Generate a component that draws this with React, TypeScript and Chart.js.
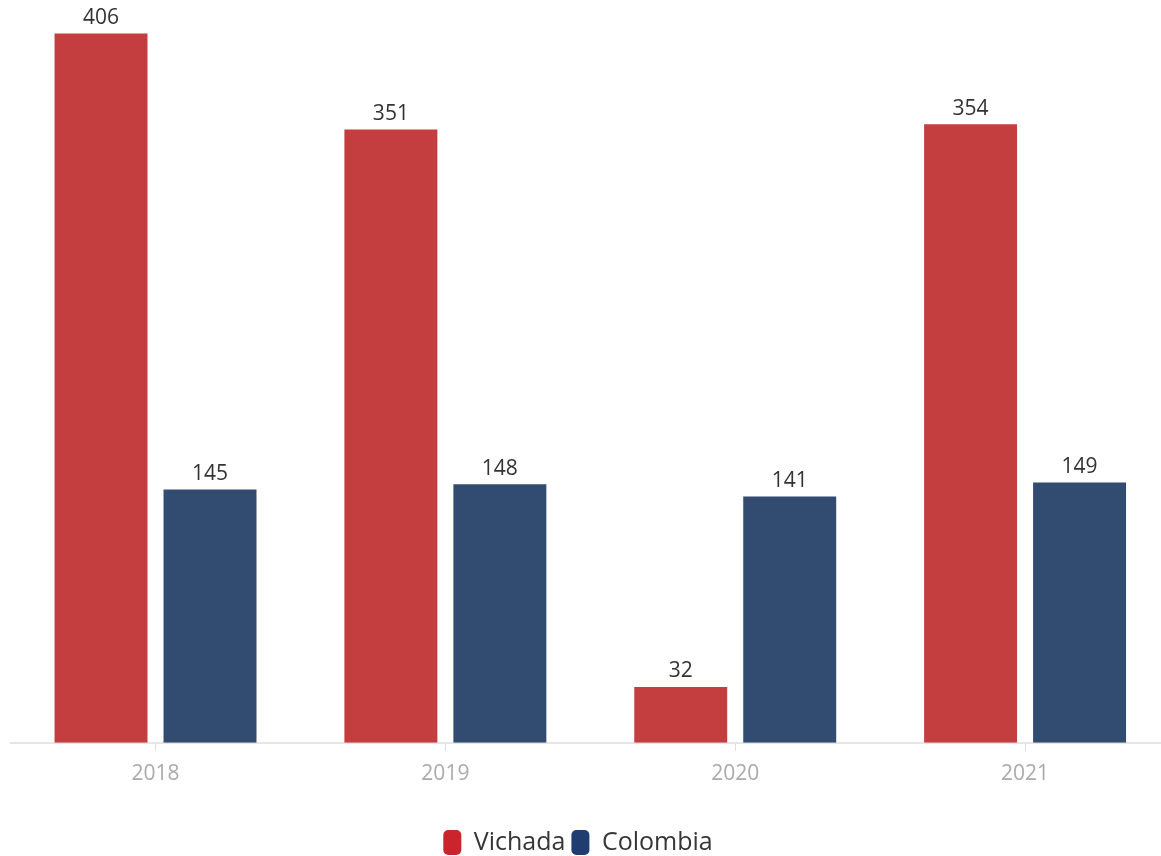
import React, { useEffect, useRef } from "react";
import { Chart, registerables } from "chart.js";

Chart.register(...registerables);

const years = ["2018", "2019", "2020", "2021"];
const vichada = [406, 351, 32, 354];
const colombia = [145, 148, 141, 149];
const seriesNames = ["Vichada", "Colombia"];
const barColors = ["#c43d3f", "#324b70"];
const legendColors = ["#c8252c", "#1f3d70"];

const FONT = "'Open Sans', 'Noto Sans', sans-serif";

const valueLabels = {
  id: "valueLabels",
  afterDatasetsDraw(chart: any) {
    const ctx = chart.ctx;
    ctx.save();
    ctx.font = `21px ${FONT}`;
    ctx.fillStyle = "#333333";
    ctx.textAlign = "center";
    ctx.textBaseline = "bottom";
    chart.data.datasets.forEach((ds: any, i: number) => {
      const meta = chart.getDatasetMeta(i);
      meta.data.forEach((bar: any, j: number) => {
        ctx.fillText(String(ds.data[j]), bar.x, bar.y - 5);
      });
    });
    ctx.restore();
  },
};

export default function App() {
  const ref = useRef<HTMLCanvasElement>(null);
  useEffect(() => {
    if (!ref.current) return;
    const chart = new Chart(ref.current, {
      type: "bar",
      data: {
        labels: years,
        datasets: [
          {
            label: seriesNames[0],
            data: vichada,
            backgroundColor: barColors[0],
            barPercentage: 0.853,
            categoryPercentage: 0.752,
          },
          {
            label: seriesNames[1],
            data: colombia,
            backgroundColor: barColors[1],
            barPercentage: 0.853,
            categoryPercentage: 0.752,
          },
        ],
      },
      options: {
        responsive: false,
        animation: false,
        layout: { padding: { top: 9, bottom: -9, left: 0, right: 0 } },
        plugins: {
          tooltip: { enabled: false },
          legend: {
            position: "bottom",
            labels: {
              font: { family: FONT, size: 25 },
              color: "#363636",
              boxWidth: 18,
              boxHeight: 25,
              padding: 6,
              useBorderRadius: true,
              borderRadius: 5,
              generateLabels: () =>
                seriesNames.map((n, i) => ({
                  text: n,
                  fillStyle: legendColors[i],
                  strokeStyle: legendColors[i],
                  lineWidth: 0,
                  borderRadius: 5,
                  datasetIndex: i,
                  hidden: false,
                  fontColor: "#363636",
                })),
            },
          },
        },
        scales: {
          x: {
            grid: {
              display: true,
              drawOnChartArea: false,
              offset: false,
              tickLength: 8,
              color: "#dddddd",
            },
            border: { display: true, color: "#e6e6e6", width: 2 },
            ticks: {
              color: "#aaaaaa",
              font: { family: FONT, size: 21 },
              padding: 11,
            },
            title: {
              display: true,
              text: "",
              font: { size: 10 },
              padding: { top: 0, bottom: 14 },
            },
          },
          y: {
            min: 0,
            max: 420,
            display: true,
            ticks: { display: false },
            grid: { display: false },
            border: { display: false },
            afterFit: (s: any) => {
              s.width = 24.6;
            },
          },
        },
      },
      plugins: [valueLabels],
    });
    return () => chart.destroy();
  }, []);
  return (
    <div style={{ position: "fixed", left: 0, top: 0, width: 1161, height: 856, overflow: "hidden", background: "#ffffff" }}>
      <div style={{ position: "absolute", left: -14, top: 0 }}>
        <canvas ref={ref} width={1184} height={856} />
      </div>
    </div>
  );
}
